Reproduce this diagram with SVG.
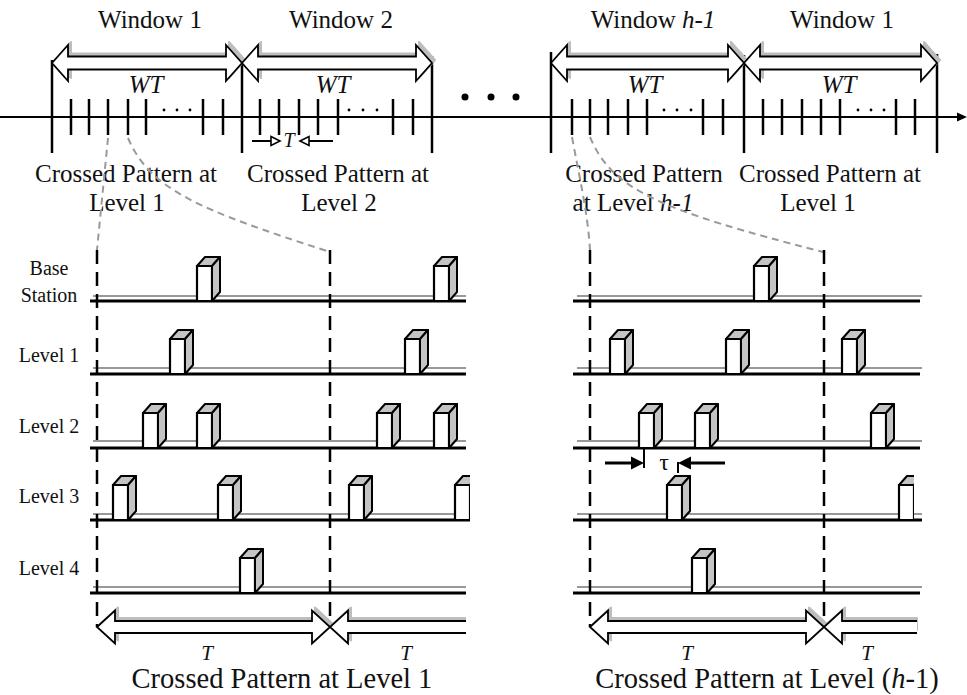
<svg xmlns="http://www.w3.org/2000/svg" width="967" height="695" viewBox="0 0 967 695">
<style>
text{font-family:"Liberation Serif","Times New Roman",serif;fill:#111}
.big{font-size:25px}
.it{font-style:italic}
.row{font-size:20px}
.axis{stroke:#000;stroke-width:2;fill:none}
.bound{stroke:#000;stroke-width:2.5}
.tick{stroke:#000;stroke-width:2.5}
.shadow{fill:#bdbdbd;stroke:#bdbdbd;stroke-width:2;stroke-linejoin:round}
.afill{fill:#fff;stroke:none}
.aline{fill:none;stroke:#000;stroke-width:1.8;stroke-linejoin:miter}
.thick{stroke:#000;stroke-width:3}
.thin{stroke:#333;stroke-width:1.2}
.vdash{stroke:#000;stroke-width:2.5;stroke-dasharray:14 8}
.zoom{stroke:#9a9a9a;stroke-width:2;stroke-dasharray:7 5;fill:none}
.face{fill:#c4c4c4;stroke:#000;stroke-width:2;stroke-linejoin:round}
.front{fill:#fff;stroke:#000;stroke-width:2.2}
</style>
<defs>
  <!-- one slot pulse drawn as a small box standing on its baseline -->
  <g id="pulse">
    <path class="front" d="M0,0 V-35 H15 V0 Z"/>
    <path class="face" d="M0,-35 L8,-44 H23 L15,-35 Z"/>
    <path class="face" d="M15,-35 L23,-44 V-9 L15,0 Z"/>
  </g>
  <g id="dot"><circle r="1.4" fill="#000"/></g>
  <clipPath id="clipL"><rect x="0" y="230" width="470" height="380"/></clipPath>
  <clipPath id="clipR"><rect x="560" y="230" width="354" height="380"/></clipPath>
</defs>

<!-- main time axis -->
<g id="timeline">
  <line class="axis" x1="0" y1="117" x2="959" y2="117"/>
  <polygon points="967,117 957,112.5 957,121.5" fill="#000"/>
  <line class="bound" x1="52" y1="60" x2="52" y2="153"/>
  <line class="bound" x1="242" y1="60" x2="242" y2="153"/>
  <line class="bound" x1="432" y1="56" x2="432" y2="153"/>
  <line class="bound" x1="551" y1="52" x2="551" y2="153"/>
  <line class="bound" x1="744" y1="55" x2="744" y2="153"/>
  <line class="bound" x1="937" y1="54" x2="937" y2="153"/>
  <circle cx="465" cy="97" r="3.5" fill="#000"/>
  <circle cx="491" cy="97" r="3.5" fill="#000"/>
  <circle cx="516" cy="97" r="3.5" fill="#000"/>
</g>

<!-- window width arrows -->
<g id="window-arrows">
  <g transform="translate(3,-3)">
    <path class="shadow" d="M52,63 L68,45 L68,56.5 L226,56.5 L226,45 L242,63 L226,81 L226,69.5 L68,69.5 L68,81 Z"/>
    <path class="shadow" d="M242,63 L258,45 L258,56.5 L416,56.5 L416,45 L432,63 L416,81 L416,69.5 L258,69.5 L258,81 Z"/>
    <path class="shadow" d="M551,63 L567,45 L567,56.5 L728,56.5 L728,45 L744,63 L728,81 L728,69.5 L567,69.5 L567,81 Z"/>
    <path class="shadow" d="M744,63 L760,45 L760,56.5 L921,56.5 L921,45 L937,63 L921,81 L921,69.5 L760,69.5 L760,81 Z"/>
  </g>
  <path class="afill" d="M52,63 L68,45 L68,56.5 L226,56.5 L226,45 L242,63 L226,81 L226,69.5 L68,69.5 L68,81 Z"/>
  <path class="afill" d="M242,63 L258,45 L258,56.5 L416,56.5 L416,45 L432,63 L416,81 L416,69.5 L258,69.5 L258,81 Z"/>
  <path class="afill" d="M551,63 L567,45 L567,56.5 L728,56.5 L728,45 L744,63 L728,81 L728,69.5 L567,69.5 L567,81 Z"/>
  <path class="afill" d="M744,63 L760,45 L760,56.5 L921,56.5 L921,45 L937,63 L921,81 L921,69.5 L760,69.5 L760,81 Z"/>
  <path class="aline" d="M52,63 L68,45 L68,56.5 L226,56.5 L226,45 L242,63 L226,81 L226,69.5 L68,69.5 L68,81 Z"/>
  <path class="aline" d="M242,63 L258,45 L258,56.5 L416,56.5 L416,45 L432,63 L416,81 L416,69.5 L258,69.5 L258,81 Z"/>
  <path class="aline" d="M551,63 L567,45 L567,56.5 L728,56.5 L728,45 L744,63 L728,81 L728,69.5 L567,69.5 L567,81 Z"/>
  <path class="aline" d="M744,63 L760,45 L760,56.5 L921,56.5 L921,45 L937,63 L921,81 L921,69.5 L760,69.5 L760,81 Z"/>
</g>

<g id="window-1">
  <text class="big" x="150" y="28" text-anchor="middle">Window 1</text>
  <text class="big it" x="146" y="93" text-anchor="middle">WT</text>
  <g class="tick">
    <line x1="71" y1="99" x2="71" y2="135"/><line x1="89" y1="99" x2="89" y2="135"/>
    <line x1="108" y1="99" x2="108" y2="135"/><line x1="128" y1="99" x2="128" y2="135"/>
    <line x1="146" y1="99" x2="146" y2="135"/><line x1="203" y1="99" x2="203" y2="135"/>
    <line x1="223" y1="99" x2="223" y2="135"/>
  </g>
  <use href="#dot" x="164" y="110"/><use href="#dot" x="177" y="110"/><use href="#dot" x="190" y="110"/>
  <text class="big" x="126" y="182" text-anchor="middle">Crossed Pattern at</text>
  <text class="big" x="127" y="211" text-anchor="middle">Level 1</text>
</g>

<g id="window-2">
  <text class="big" x="341" y="28" text-anchor="middle">Window 2</text>
  <text class="big it" x="333" y="93" text-anchor="middle">WT</text>
  <g class="tick">
    <line x1="260" y1="99" x2="260" y2="135"/><line x1="279" y1="99" x2="279" y2="135"/>
    <line x1="299" y1="99" x2="299" y2="135"/><line x1="318" y1="99" x2="318" y2="135"/>
    <line x1="338" y1="99" x2="338" y2="135"/><line x1="393" y1="99" x2="393" y2="135"/>
    <line x1="413" y1="99" x2="413" y2="135"/>
  </g>
  <use href="#dot" x="349" y="110"/><use href="#dot" x="363" y="110"/><use href="#dot" x="377" y="110"/>
  <!-- slot length marker -->
  <line x1="252" y1="141" x2="271" y2="141" stroke="#000" stroke-width="2"/>
  <polygon points="271,136.5 280,141 271,145.5" fill="#fff" stroke="#000" stroke-width="1.6"/>
  <text x="289" y="147" font-size="20" font-style="italic" text-anchor="middle">T</text>
  <polygon points="300,141 309,136.5 309,145.5" fill="#fff" stroke="#000" stroke-width="1.6"/>
  <line x1="309" y1="141" x2="333" y2="141" stroke="#000" stroke-width="2"/>
  <text class="big" x="338" y="182" text-anchor="middle">Crossed Pattern at</text>
  <text class="big" x="339" y="211" text-anchor="middle">Level 2</text>
</g>

<g id="window-h-1">
  <text class="big" x="653" y="28" text-anchor="middle">Window <tspan class="it">h-1</tspan></text>
  <text class="big it" x="645" y="93" text-anchor="middle">WT</text>
  <g class="tick">
    <line x1="572" y1="99" x2="572" y2="135"/><line x1="590" y1="99" x2="590" y2="135"/>
    <line x1="608" y1="99" x2="608" y2="135"/><line x1="628" y1="99" x2="628" y2="135"/>
    <line x1="647" y1="99" x2="647" y2="135"/><line x1="703" y1="99" x2="703" y2="135"/>
    <line x1="723" y1="99" x2="723" y2="135"/>
  </g>
  <use href="#dot" x="664" y="110"/><use href="#dot" x="677" y="110"/><use href="#dot" x="691" y="110"/>
  <text class="big" x="644" y="182" text-anchor="middle">Crossed Pattern</text>
  <text class="big" x="633" y="211" text-anchor="middle">at Level <tspan class="it">h-1</tspan></text>
</g>

<g id="window-1-next">
  <text class="big" x="842" y="28" text-anchor="middle">Window 1</text>
  <text class="big it" x="839" y="93" text-anchor="middle">WT</text>
  <g class="tick">
    <line x1="763" y1="99" x2="763" y2="135"/><line x1="782" y1="99" x2="782" y2="135"/>
    <line x1="802" y1="99" x2="802" y2="135"/><line x1="821" y1="99" x2="821" y2="135"/>
    <line x1="840" y1="99" x2="840" y2="135"/><line x1="896" y1="99" x2="896" y2="135"/>
    <line x1="915" y1="99" x2="915" y2="135"/>
  </g>
  <use href="#dot" x="858" y="110"/><use href="#dot" x="871" y="110"/><use href="#dot" x="884" y="110"/>
  <text class="big" x="830" y="182" text-anchor="middle">Crossed Pattern at</text>
  <text class="big" x="818" y="211" text-anchor="middle">Level 1</text>
</g>

<!-- expansion connectors from the slot axis to the detail panels -->
<g id="connectors">
  <path class="zoom" d="M108,138 L97,250"/>
  <path class="zoom" d="M128,138 C150,190 200,210 330,252"/>
  <path class="zoom" d="M572,137 C580,180 588,215 590,250"/>
  <path class="zoom" d="M590,137 C612,190 660,210 823,252"/>
</g>

<!-- row labels -->
<g id="row-labels" class="row">
  <text class="row" x="49" y="275" text-anchor="middle">Base</text>
  <text class="row" x="49" y="302" text-anchor="middle">Station</text>
  <text class="row" x="49" y="362" text-anchor="middle">Level 1</text>
  <text class="row" x="49" y="433" text-anchor="middle">Level 2</text>
  <text class="row" x="49" y="503" text-anchor="middle">Level 3</text>
  <text class="row" x="49" y="575" text-anchor="middle">Level 4</text>
</g>

<!-- detail panel: crossed pattern at level 1 -->
<g id="panel-level-1">
  <g class="thin">
    <line x1="93" y1="296" x2="466" y2="296"/>
    <line x1="93" y1="368" x2="466" y2="368"/>
    <line x1="93" y1="441" x2="466" y2="441"/>
    <line x1="93" y1="514" x2="466" y2="514"/>
    <line x1="93" y1="587" x2="466" y2="587"/>
  </g>
  <g class="thick">
    <line x1="90" y1="301" x2="466" y2="301"/>
    <line x1="90" y1="374" x2="466" y2="374"/>
    <line x1="90" y1="448" x2="466" y2="448"/>
    <line x1="90" y1="520" x2="470" y2="520"/>
    <line x1="90" y1="593" x2="466" y2="593"/>
  </g>
  <g clip-path="url(#clipL)">
    <use href="#pulse" x="197" y="301"/><use href="#pulse" x="434" y="301"/>
    <use href="#pulse" x="170" y="374"/><use href="#pulse" x="405" y="374"/>
    <use href="#pulse" x="143" y="448"/><use href="#pulse" x="197" y="448"/>
    <use href="#pulse" x="377" y="448"/><use href="#pulse" x="434" y="448"/>
    <use href="#pulse" x="113" y="520"/><use href="#pulse" x="218" y="520"/>
    <use href="#pulse" x="349" y="520"/><use href="#pulse" x="455" y="520"/>
    <use href="#pulse" x="240" y="593"/>
  </g>
  <line class="vdash" x1="97" y1="250" x2="97" y2="627"/>
  <line class="vdash" x1="330" y1="250" x2="330" y2="627"/>
  <g transform="translate(3,-3)">
    <path class="shadow" d="M97,627 L115,610.5 L115,621 L312,621 L312,610.5 L330,627 L312,643.5 L312,633 L115,633 L115,643.5 Z"/>
    <path class="shadow" d="M462,621 L348,621 L348,610.5 L330,627 L348,643.5 L348,633 L462,633 Z"/>
  </g>
  <path class="afill" d="M97,627 L115,610.5 L115,621 L312,621 L312,610.5 L330,627 L312,643.5 L312,633 L115,633 L115,643.5 Z"/>
  <path class="afill" d="M466,621 L348,621 L348,610.5 L330,627 L348,643.5 L348,633 L466,633 Z"/>
  <path class="aline" d="M97,627 L115,610.5 L115,621 L312,621 L312,610.5 L330,627 L312,643.5 L312,633 L115,633 L115,643.5 Z"/>
  <path class="aline" d="M466,621 L348,621 L348,610.5 L330,627 L348,643.5 L348,633 L466,633"/>
  <text x="207" y="660" font-size="21" font-style="italic" text-anchor="middle">T</text>
  <text x="406" y="660" font-size="21" font-style="italic" text-anchor="middle">T</text>
  <text x="282" y="688" font-size="28.5" text-anchor="middle">Crossed Pattern at Level 1</text>
</g>

<!-- detail panel: crossed pattern at level h-1 -->
<g id="panel-level-h-1">
  <g class="thin">
    <line x1="577" y1="296" x2="922" y2="296"/>
    <line x1="577" y1="368" x2="922" y2="368"/>
    <line x1="577" y1="441" x2="922" y2="441"/>
    <line x1="577" y1="514" x2="922" y2="514"/>
    <line x1="577" y1="587" x2="922" y2="587"/>
  </g>
  <g class="thick">
    <line x1="573" y1="301" x2="920" y2="301"/>
    <line x1="573" y1="374" x2="920" y2="374"/>
    <line x1="573" y1="448" x2="920" y2="448"/>
    <line x1="573" y1="520" x2="922" y2="520"/>
    <line x1="573" y1="593" x2="920" y2="593"/>
  </g>
  <g clip-path="url(#clipR)">
    <use href="#pulse" x="754" y="301"/>
    <use href="#pulse" x="610" y="374"/><use href="#pulse" x="726" y="374"/><use href="#pulse" x="842" y="374"/>
    <use href="#pulse" x="639" y="448"/><use href="#pulse" x="695" y="448"/><use href="#pulse" x="871" y="448"/>
    <use href="#pulse" x="667" y="520"/><use href="#pulse" x="899" y="520"/>
    <use href="#pulse" x="692" y="593"/>
  </g>
  <line class="vdash" x1="590" y1="250" x2="590" y2="627"/>
  <line class="vdash" x1="824" y1="250" x2="824" y2="627"/>
  <!-- offset marker between level 2 and level 3 slots -->
  <g id="tau-marker">
    <line x1="644" y1="448" x2="644" y2="468" stroke="#000" stroke-width="2"/>
    <line x1="605" y1="463" x2="634" y2="463" stroke="#000" stroke-width="3"/>
    <polygon points="631,456.5 644,463 631,469.5" fill="#000"/>
    <line x1="690" y1="463" x2="725" y2="463" stroke="#000" stroke-width="3"/>
    <polygon points="691,456.5 678,463 691,469.5" fill="#000"/>
    <line x1="678" y1="462" x2="678" y2="473" stroke="#000" stroke-width="2"/>
    <text x="664" y="470" font-size="24" text-anchor="middle">τ</text>
  </g>
  <g transform="translate(3,-3)">
    <path class="shadow" d="M590,627 L608,610.5 L608,621 L806,621 L806,610.5 L824,627 L806,643.5 L806,633 L608,633 L608,643.5 Z"/>
    <path class="shadow" d="M914,621 L842,621 L842,610.5 L824,627 L842,643.5 L842,633 L914,633 Z"/>
  </g>
  <path class="afill" d="M590,627 L608,610.5 L608,621 L806,621 L806,610.5 L824,627 L806,643.5 L806,633 L608,633 L608,643.5 Z"/>
  <path class="afill" d="M917,621 L842,621 L842,610.5 L824,627 L842,643.5 L842,633 L917,633 Z"/>
  <path class="aline" d="M590,627 L608,610.5 L608,621 L806,621 L806,610.5 L824,627 L806,643.5 L806,633 L608,633 L608,643.5 Z"/>
  <path class="aline" d="M917,621 L842,621 L842,610.5 L824,627 L842,643.5 L842,633 L917,633"/>
  <text x="687" y="660" font-size="21" font-style="italic" text-anchor="middle">T</text>
  <text x="867" y="660" font-size="21" font-style="italic" text-anchor="middle">T</text>
  <text x="767" y="688" font-size="28.5" text-anchor="middle">Crossed Pattern at Level (<tspan font-style="italic">h</tspan>-1)</text>
</g>
</svg>
